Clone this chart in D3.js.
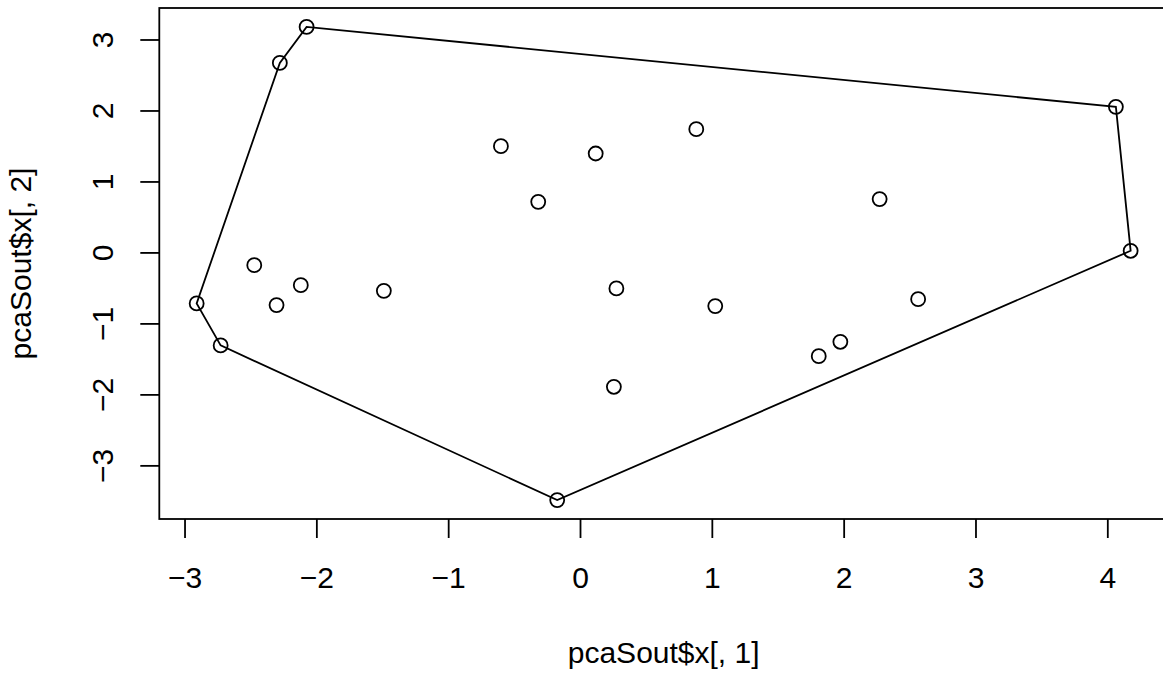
<!DOCTYPE html>
<html>
<head>
<meta charset="utf-8">
<script src="https://cdn.jsdelivr.net/npm/d3@7"></script>
<style>
  body { margin: 0; background: #fff; }
  text { font-family: "Liberation Sans", Arial, sans-serif; fill: #000; }
</style>
</head>
<body>
<div id="chart"></div>
<script>
// scores on the first two principal components
const pc1 = [
  -2.074, -2.277, 4.065, 0.882, -0.6, 0.119, -0.317, 2.273, 4.177, -2.471, -2.118,
  -1.488, -2.908, -2.302, 0.276, 1.026, 2.565, -2.726, 1.975, 1.811, 0.257, -0.173,
];
const pc2 = [
  3.177, 2.67, 2.051, 1.737, 1.497, 1.394, 0.713, 0.751, 0.023, -0.179, -0.461,
  -0.541, -0.718, -0.742, -0.507, -0.756, -0.658, -1.31, -1.259, -1.461, -1.893, -3.489,
];
const xTicks = [-3, -2, -1, 0, 1, 2, 3, 4];
const yTicks = [-3, -2, -1, 0, 1, 2, 3];
const xLabel = "pcaSout$x[, 1]";
const yLabel = "pcaSout$x[, 2]";

const W = 1163, H = 673;
const plot = { left: 159.3, right: 1168, top: 8, bottom: 519 };

// R style: pad the data range by 4% on each side
function padRange(v) {
  const [lo, hi] = d3.extent(v);
  const pad = (hi - lo) * 0.04;
  return [lo - pad, hi + pad];
}

const xScale = d3.scaleLinear().domain(padRange(pc1)).range([plot.left, plot.right]);
const yScale = d3.scaleLinear().domain(padRange(pc2)).range([plot.bottom, plot.top]);

const points = pc1.map((d, i) => [d, pc2[i]]);

const svg = d3
  .select("#chart")
  .append("svg")
  .attr("width", W)
  .attr("height", H);

// x axis
const xAxis = d3.axisBottom(xScale).tickValues(xTicks).tickSize(19).tickPadding(0)
  .tickFormat((d) => (d < 0 ? "\u2212" + Math.abs(d) : d));
const gx = svg
  .append("g")
  .attr("class", "myXaxis")
  .attr("transform", "translate(0," + plot.bottom + ")")
  .call(xAxis);
gx.select(".domain").remove();
gx.selectAll("line").attr("stroke", "#000").attr("stroke-width", 1.8);
gx.selectAll("text")
  .attr("y", 69)
  .attr("dy", 0)
  .style("font-size", "30px");

// y axis, labels turned like R's las = 0
const yAxis = d3.axisLeft(yScale).tickValues(yTicks).tickSize(19).tickPadding(0)
  .tickFormat((d) => (d < 0 ? "\u2212" + Math.abs(d) : d));
const gy = svg
  .append("g")
  .attr("class", "myYaxis")
  .attr("transform", "translate(" + plot.left + ",0)")
  .call(yAxis);
gy.select(".domain").remove();
gy.selectAll("line").attr("stroke", "#000").attr("stroke-width", 1.8);
gy.selectAll("text")
  .attr("x", 0)
  .attr("dy", 0)
  .attr("text-anchor", "middle")
  .attr("transform", "translate(-46,0) rotate(-90)")
  .style("font-size", "30px");

// box
svg
  .append("rect")
  .attr("x", plot.left)
  .attr("y", plot.top)
  .attr("width", plot.right - plot.left)
  .attr("height", plot.bottom - plot.top)
  .attr("fill", "none")
  .attr("stroke", "#000")
  .attr("stroke-width", 1.8);

// convex hull
const hull = d3.polygonHull(points);
svg
  .append("path")
  .datum(hull)
  .attr(
    "d",
    d3
      .line()
      .x((d) => xScale(d[0]))
      .y((d) => yScale(d[1]))
      .curve(d3.curveLinearClosed)
  )
  .attr("fill", "none")
  .attr("stroke", "#000")
  .attr("stroke-width", 1.8);

// points
svg
  .append("g")
  .selectAll("circle")
  .data(points)
  .enter()
  .append("circle")
  .attr("cx", (d) => xScale(d[0]))
  .attr("cy", (d) => yScale(d[1]))
  .attr("r", 7)
  .attr("fill", "none")
  .attr("stroke", "#000")
  .attr("stroke-width", 1.8);

// axis titles
svg
  .append("text")
  .attr("x", (plot.left + plot.right) / 2)
  .attr("y", 663)
  .attr("text-anchor", "middle")
  .style("font-size", "30px")
  .text(xLabel);

svg
  .append("text")
  .attr("transform", "translate(31," + (plot.top + plot.bottom) / 2 + ") rotate(-90)")
  .attr("text-anchor", "middle")
  .style("font-size", "30px")
  .text(yLabel);
</script>
</body>
</html>
